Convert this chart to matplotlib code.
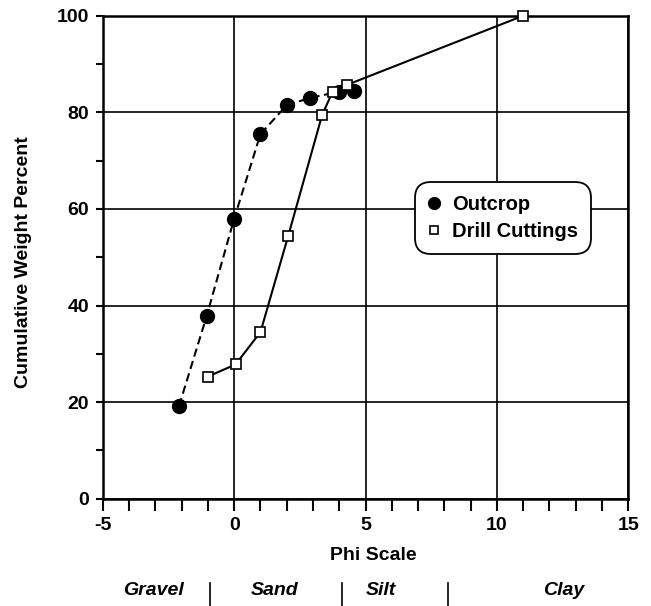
import matplotlib
matplotlib.use("Agg")
import matplotlib.pyplot as plt
from matplotlib.lines import Line2D
from matplotlib.ticker import MultipleLocator
import matplotlib.transforms as mtransforms

plt.rcParams['font.family'] = ['Liberation Sans', 'DejaVu Sans']
plt.rcParams['font.weight'] = 'bold'
plt.rcParams['axes.unicode_minus'] = False

# 数据
outcrop_phi = [-2.1, -1.05, 0.0, 1.0, 2.0, 2.9, 4.0, 4.55]
outcrop_pct = [19.2, 37.8, 58.0, 75.5, 81.5, 83.0, 84.3, 84.5]
drill_phi = [-1.0, 0.05, 1.0, 2.05, 3.35, 3.75, 4.3, 11.0]
drill_pct = [25.3, 27.8, 34.5, 54.3, 79.5, 84.3, 85.7, 100.0]

size_classes = ['Gravel', 'Sand', 'Silt', 'Clay']
class_centers = [-3.06, 1.55, 5.6, 12.56]
class_breaks = [-0.92, 4.1, 8.14]

fig = plt.figure(figsize=(6.51, 6.06), dpi=100)
ax = fig.add_axes([0.158, 0.177, 0.807, 0.797])

ax.plot(outcrop_phi, outcrop_pct, color='black', lw=1.5, ls=(0, (4, 2.2)),
        marker='o', ms=10, mfc='black', mec='black', zorder=3, clip_on=False)
ax.plot(drill_phi, drill_pct, color='black', lw=1.5, ls='-',
        marker='s', ms=6.5, mfc='white', mec='black', mew=1.2, zorder=4,
        clip_on=False)

ax.set_xlim(-5, 15)
ax.set_ylim(0, 100)
ax.xaxis.set_major_locator(MultipleLocator(5))
ax.xaxis.set_minor_locator(MultipleLocator(1))
ax.yaxis.set_major_locator(MultipleLocator(20))
ax.yaxis.set_minor_locator(MultipleLocator(10))
ax.tick_params(which='both', direction='out', width=1.5, color='black',
               labelsize=14)
ax.tick_params(axis='x', which='both', length=8.5, pad=5)
ax.tick_params(axis='y', which='both', length=5, pad=5)
ax.grid(True, which='major', color='black', lw=1.2)
for s in ax.spines.values():
    s.set_linewidth(1.8)

ax.set_xlabel('Phi Scale', fontsize=14, fontweight='bold')
ax.xaxis.set_label_coords(0.514, -0.118)
ax.xaxis.label.set_va('center')
ax.set_ylabel('Cumulative Weight Percent', fontsize=14, fontweight='bold')
ax.yaxis.set_label_coords(-0.152, 0.49)
ax.yaxis.label.set_va('center')

# 粒级标注
trans = mtransforms.blended_transform_factory(ax.transData, fig.transFigure)
for name, xc in zip(size_classes, class_centers):
    ax.text(xc, 0.025, name, transform=trans, ha='center', va='center',
            fontsize=14, fontweight='bold', style='italic')
for xb in class_breaks:
    ax.plot([xb, xb], [0.0, 0.038], transform=trans, color='black',
            lw=1.2, clip_on=False)

handles = [
    Line2D([], [], ls='none', marker='o', ms=8.5, mfc='black', mec='black'),
    Line2D([], [], ls='none', marker='s', ms=5.5, mfc='white', mec='black', mew=1.2),
]
leg = ax.legend(handles, ['Outcrop', 'Drill Cuttings'], loc='upper left',
                bbox_to_anchor=(0.594, 0.656), prop={'size': 14.5, 'weight': 'bold'},
                handlelength=0.6, handletextpad=0.6, borderpad=0.45,
                borderaxespad=0.2, labelspacing=0.4, fancybox=True,
                framealpha=1, edgecolor='black')
leg.get_frame().set_linewidth(1.3)
leg.get_frame().set_boxstyle('round', pad=0.2, rounding_size=0.8)

fig.savefig('out.png', dpi=100)
